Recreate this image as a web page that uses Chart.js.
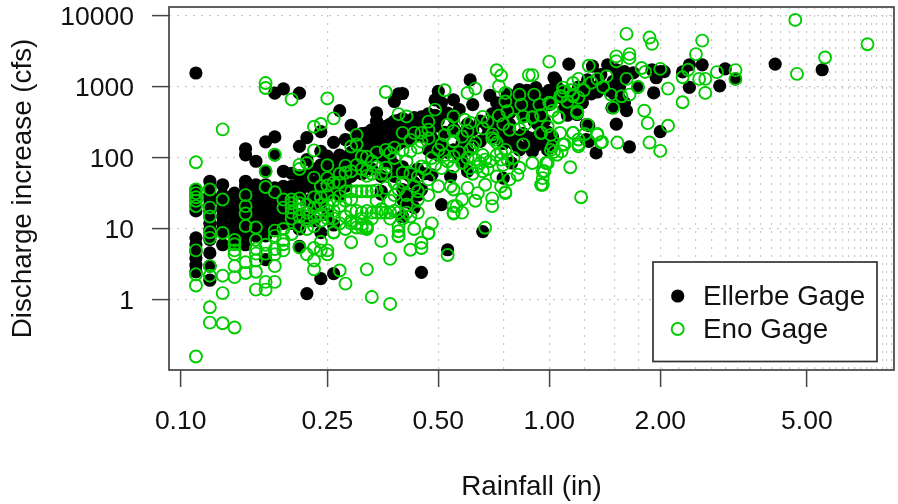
<!DOCTYPE html>
<html>
<head>
<meta charset="utf-8">
<script src="https://cdn.jsdelivr.net/npm/chart.js@4"></script>
<style>
  html, body { margin: 0; padding: 0; background: #fff; }
  canvas { display: block; filter: blur(0.4px); }
</style>
</head>
<body>
<canvas id="chart" width="898" height="504"></canvas>
<script>
// [rainfall in, discharge increase cfs]
const ellerbePoints = [
  [.11,1574],[.11,36],[.11,30],[.11,25],[.11,21],[.11,18],[.11,7.5],[.11,6],[.11,4.8],[.11,3.9],[.11,3.1],[.11,2.5],
  [.12,47],[.12,38],[.12,30],[.12,26],[.12,22],[.12,18],[.12,15],[.12,12],[.12,10],[.12,8],[.12,7.1],[.12,4.6],[.12,3],[.12,1.9],
  [.13,42],[.13,30],[.13,24],[.13,19],[.13,15],[.13,12],[.13,10],[.13,8.8],[.13,6],
  [.14,32],[.14,26],[.14,21],[.14,17],[.14,14],[.14,11],[.14,9],[.14,7],[.14,6.4],
  [.15,135],[.15,111],[.15,47],[.15,40],[.15,32],[.15,26],[.15,21],[.15,17],[.15,14],[.15,11],[.15,9],[.15,7],[.15,6],
  [.16,90],[.16,42],[.16,34],[.16,28],[.16,23],[.16,19],[.16,15],[.16,12],[.16,10],[.16,8],
  [.17,169],[.17,65],[.17,42],[.17,34],[.17,28],[.17,23],[.17,19],[.17,15],[.17,12],[.17,10],[.17,8],[.17,3.7],
  [.18,820],[.18,198],[.18,111],[.18,38],[.18,30],[.18,25],[.18,20],[.18,16],[.18,13],[.18,10],
  [.19,940],[.19,65],[.19,40],[.19,32],[.19,26],[.19,20],[.19,15],[.19,12],
  [.20,61],[.20,40],[.20,30],[.20,22],[.20,16],[.20,12],
  [.21,820],[.21,146],[.21,56],[.21,45],[.21,32],[.21,16],[.21,10],[.21,5.7],
  [.22,194],[.22,95],[.22,59],[.22,40],[.22,25],[.22,14],[.22,1.23],
  [.23,70],[.23,45],[.23,30],[.23,20],[.23,13],
  [.24,235],[.24,124],[.24,80],[.24,55],[.24,35],[.24,22],[.24,8.9],[.24,2],
  [.25,106],[.25,73],[.25,50],[.25,30],[.25,16],
  [.26,166],[.26,85],[.26,60],[.26,40],[.26,11.4],[.26,2.35],
  [.27,464],[.27,110],[.27,70],[.27,45],[.27,30],
  [.28,182],[.28,95],[.28,65],[.28,40],
  [.29,288],[.29,120],[.29,80],[.29,55],
  [.30,200],[.30,140],[.30,100],[.30,75],
  [.31,220],[.31,160],[.31,120],[.31,85],[.31,60],
  [.32,226],[.32,180],[.32,130],[.32,95],
  [.33,250],[.33,190],[.33,150],[.33,110],[.33,70],
  [.34,432],[.34,330],[.34,265],[.34,210],[.34,160],[.34,120],
  [.35,240],[.35,190],[.35,150],[.35,110],[.35,55],[.35,34],[.35,31],
  [.36,280],[.36,220],[.36,170],[.36,130],[.36,90],
  [.37,300],[.37,230],[.37,180],[.37,140],[.37,100],
  [.38,625],[.38,330],[.38,250],[.38,190],[.38,150],[.38,80],[.38,55],
  [.39,800],[.39,340],[.39,260],[.39,200],[.39,160],
  [.40,810],[.40,360],[.40,280],[.40,210],[.40,75],[.40,36],[.40,26],[.40,15],
  [.41,300],[.41,230],[.41,170],[.41,60],[.41,24],
  [.42,340],[.42,260],[.42,190],[.42,55],[.42,30],
  [.43,370],[.43,280],[.43,200],[.43,45],[.43,20],
  [.44,340],[.44,220],[.44,70],[.44,30],
  [.45,380],[.45,290],[.45,36],[.45,2.45],
  [.46,300],[.46,200],[.46,60],
  [.47,420],[.47,240],[.47,130],
  [.48,310],[.48,190],[.48,120],[.48,58],
  [.49,660],[.49,400],[.49,280],
  [.50,870],[.50,340],[.50,160],[.50,110],
  [.51,600],[.51,155],[.51,22],
  [.52,230],[.53,430],[.53,120],[.53,5.1],
  [.54,55],[.55,660],[.55,370],[.55,260],[.55,130],[.57,480],[.57,111],[.57,220],[.58,160],[.58,90],
  [.60,300],[.60,180],[.60,130],[.60,65],[.61,1260],[.62,565],[.62,250],[.65,172],[.65,330],
  [.66,9.2],[.68,280],[.68,210],[.69,760],[.70,420],[.70,300],[.70,190],[.72,600],[.72,200],[.72,400],[.74,510],[.74,345],[.74,250],[.75,160],[.75,52],[.75,240],
  [.76,180],[.77,800],[.77,620],[.78,550],[.78,430],[.78,300],[.78,200],[.79,85],[.80,200],[.80,160],[.80,690],[.81,520],[.82,150],[.83,920],[.83,750],[.83,130],
  [.85,560],[.85,380],[.85,220],[.87,430],[.87,900],[.88,194],[.88,150],[.88,660],[.90,124],[.90,800],[.90,500],
  [.91,330],[.92,980],[.92,620],[.92,150],[.93,300],[.93,200],[.94,600],[.95,800],[.95,440],[.96,240],[.97,330],[.97,190],[.99,232],[.99,140],[.99,130],
  [1.0,565],[1.0,900],[1.0,160],[1.01,825],[1.02,825],[1.02,200],[1.03,1350],[1.04,1250],[1.06,950],[1.08,700],[1.1,820],[1.1,500],
  [1.12,400],[1.13,2100],[1.15,620],[1.16,780],[1.18,700],[1.19,410],[1.2,1000],[1.22,900],[1.23,600],[1.25,1000],[1.26,295],[1.26,182],[1.27,1260],[1.28,285],[1.28,172],
  [1.3,800],[1.31,980],[1.31,1970],[1.34,118],[1.35,850],[1.36,1030],[1.38,1500],[1.42,980],[1.44,2050],[1.45,900],[1.48,510],[1.49,1200],[1.5,800],
  [1.52,1750],[1.52,300],[1.55,1300],[1.55,1000],[1.55,700],[1.6,1650],[1.6,1350],[1.6,600],[1.62,465],[1.65,143],[1.69,1580],[1.74,1000],
  [1.9,1750],[1.92,825],[1.95,1350],[2.0,1650],[2.0,235],[2.05,1650],[2.3,1630],[2.4,2050],[2.4,990],[2.6,2050],
  [2.9,1040],[3.0,1800],[3.2,1300],[4.1,2100],[5.5,1750]
];
const enoPoints = [
  [.11,87],[.11,36],[.11,32],[.11,28],[.11,25],[.11,21],[.11,5],[.11,2.3],[.11,1.6],[.11,.16],
  [.12,36],[.12,20],[.12,15],[.12,9],[.12,7.5],[.12,3],[.12,2.2],[.12,.79],[.12,.48],
  [.13,253],[.13,26],[.13,8.8],[.13,2.2],[.13,1.25],[.13,.47],
  [.14,7],[.14,6.1],[.14,5],[.14,4.4],[.14,3],[.14,2.1],[.14,.41],
  [.15,30],[.15,21],[.15,16.5],[.15,11],[.15,3.4],[.15,2.4],
  [.16,10.5],[.16,7],[.16,5.3],[.16,4.5],[.16,3.6],[.16,2.5],[.16,1.4],
  [.17,1137],[.17,968],[.17,65],[.17,39],[.17,6],[.17,4.5],[.17,1.8],[.17,1.4],
  [.18,111],[.18,33],[.18,9.5],[.18,8],[.18,5.2],[.18,4.4],[.18,3],[.18,1.8],
  [.19,26],[.19,20],[.19,10],[.19,7],[.19,6.1],[.19,5],
  [.20,668],[.20,26],[.20,23],[.20,20],[.20,17],[.20,14],[.20,8.5],
  [.21,80],[.21,70],[.21,27],[.21,23],[.21,19],[.21,15],[.21,11],[.21,5.5],
  [.22,85],[.22,22],[.22,17],[.22,13],[.22,10],[.22,4.4],
  [.23,276],[.23,128],[.23,53],[.23,28],[.23,20],[.23,15],[.23,11],[.23,5.4],[.23,3.6],[.23,2.7],
  [.24,301],[.24,40],[.24,28],[.24,22],[.24,16],[.24,13],[.24,6.6],[.24,5],
  [.25,690],[.25,79],[.25,52],[.25,41],[.25,30],[.25,22],[.25,18],[.25,14],[.25,5],[.25,4.4],
  [.26,361],[.26,45],[.26,25],[.26,18],[.26,14],[.26,9],[.26,8.9],
  [.27,60],[.27,45],[.27,29],[.27,21],[.27,12],[.27,2.6],
  [.28,78],[.28,62],[.28,34],[.28,25],[.28,15],[.28,10],[.28,1.7],
  [.29,145],[.29,65],[.29,34],[.29,26],[.29,18],[.29,13],[.29,12],[.29,6.5],
  [.30,212],[.30,155],[.30,80],[.30,34],[.30,18],[.30,12],[.30,10.5],
  [.31,105],[.31,70],[.31,34],[.31,17],[.31,14],[.31,11.5],[.31,10.4],
  [.32,104],[.32,66],[.32,56],[.32,34],[.32,18],[.32,11],[.32,10.4],[.32,10],[.32,2.7],
  [.33,90],[.33,60],[.33,34],[.33,17],[.33,14],[.33,1.1],
  [.34,120],[.34,75],[.34,35],[.34,25],[.34,17],
  [.35,60],[.35,19],[.35,17],[.35,6.8],
  [.36,850],[.36,130],[.36,73],[.36,60],[.36,38],[.36,17],
  [.37,118],[.37,25],[.37,17],[.37,14],[.37,3.8],[.37,.88],
  [.38,140],[.38,100],[.38,45],[.38,30],[.38,18],
  [.39,415],[.39,36],[.39,17],[.39,11],[.39,9.3],[.39,8],[.39,7.9],
  [.40,226],[.40,130],[.40,62],[.40,45],[.40,14],
  [.41,385],[.41,90],[.41,30],[.41,22],[.41,17],
  [.42,180],[.42,124],[.42,60],[.42,15],[.42,5.1],
  [.43,226],[.43,40],[.43,10],
  [.44,140],[.44,55],[.44,34],[.44,26],[.44,17],
  [.45,226],[.45,170],[.45,76],[.45,6.4],[.45,5.4],
  [.46,70],[.47,325],[.47,250],[.47,190],[.47,50],[.47,30],[.47,8.8],[.47,8.7],
  [.48,100],[.48,12],[.49,480],[.49,80],
  [.50,130],[.50,40],[.51,155],[.51,72],[.52,900],[.52,210],[.52,110],[.53,295],[.53,90],[.53,4.3],
  [.54,40],[.55,385],[.55,240],[.55,172],[.55,105],[.55,76],[.55,36],[.55,21],[.55,17],[.55,16.5],
  [.56,21],[.57,120],[.58,200],[.58,85],[.58,26],[.58,17],[.59,345],[.60,825],[.60,240],[.60,100],[.60,38],
  [.61,315],[.61,130],[.61,72],[.62,145],[.62,60],[.63,950],[.63,165],[.63,95],[.63,25],[.64,75],[.64,32],[.65,85],
  [.66,380],[.66,260],[.66,110],[.66,65],[.67,95],[.67,42],[.67,10.4],[.68,325],[.68,70],[.69,90],
  [.70,215],[.70,190],[.70,27],[.70,21],[.71,180],[.72,1720],[.72,165],[.72,110],[.72,55],[.73,1030],[.73,395],[.74,1450],[.74,120],[.74,95],[.74,40],
  [.75,300],[.75,80],[.76,825],[.76,625],[.76,130],[.76,33],[.76,32],[.77,455],[.77,95],[.78,250],[.78,50],[.80,350],[.80,100],
  [.82,58],[.83,780],[.83,255],[.83,73],[.84,565],[.85,385],[.85,155],[.86,300],[.88,1470],
  [.90,1470],[.90,380],[.90,370],[.90,85],[.91,780],[.94,565],[.95,400],[.95,226],[.95,225],[.95,42],
  [.96,65],[.96,52],[.96,42],[.97,65],[.98,85],[.99,278],[.99,85],
  [1.0,2280],[1.0,600],[1.01,580],[1.01,212],[1.01,130],[1.02,460],[1.02,146],[1.03,122],[1.05,111],[1.06,380],[1.06,370],
  [1.07,740],[1.07,225],[1.08,740],[1.08,124],[1.09,980],[1.09,870],[1.09,155],[1.1,155],
  [1.12,620],[1.14,900],[1.14,74],[1.16,1140],[1.16,780],[1.16,740],[1.16,226],[1.16,225],[1.19,455],[1.19,430],
  [1.2,1300],[1.2,710],[1.2,182],[1.2,155],[1.2,146],[1.22,28],[1.24,900],[1.25,218],[1.27,295],[1.28,1990],[1.3,1150],
  [1.35,1300],[1.35,218],[1.35,212],[1.38,166],[1.39,168],[1.4,1000],[1.43,1420],[1.47,780],[1.49,510],[1.52,2700],[1.52,2300],[1.53,165],
  [1.57,740],[1.62,5600],[1.62,1300],[1.65,2900],[1.65,2550],[1.65,780],[1.74,1000],[1.78,1850],[1.81,464],[1.82,1630],
  [1.85,310],[1.87,4970],[1.87,165],[1.9,4050],[2.0,1800],[2.0,126],[2.1,950],[2.1,285],[2.3,1370],[2.3,610],
  [2.38,1750],[2.5,2900],[2.55,1300],[2.6,4500],[2.65,1300],[2.65,825],[2.85,1620],[3.2,1730],[3.2,1300],
  [4.65,8800],[4.7,1530],[5.6,2600],[7.3,4000]
];

const seriesLabels = ['Ellerbe Gage', 'Eno Gage'];
const seriesColors = ['#000000', '#00cc00'];

const xTickValues = [0.1, 0.25, 0.5, 1, 2, 5];
const xTickLabels = ['0.10', '0.25', '0.50', '1.00', '2.00', '5.00'];
const yTickValues = [1, 10, 100, 1000, 10000];
// vertical guides every quarter inch, like abline(v = seq(...))
const xGridValues = [0.25,0.5,0.75,1,1.25,1.5,1.75,2,2.25,2.5,2.75,3,3.25,3.5,3.75,4,4.25,4.5,4.75,5,5.25,5.5,5.75,6,6.25,6.5,6.75,7,7.25,7.5,7.75,8,8.25,8.5];

const axisColor = '#444444';
const gridColor = '#c9c9c9';
const fontName = '"Liberation Sans", Arial, sans-serif';

// fixed axis sizes so the plot area does not move with label overhang
function fixAxis(s, size) {
    if (s.isHorizontal()) s.height = size; else s.width = size;
    s.paddingTop = s.paddingBottom = s.paddingLeft = s.paddingRight = 0;
}

// box round the plot, R style
const plotBox = {
    id: 'plotBox',
    afterDatasetsDraw(chart) {
        const { ctx, chartArea: a } = chart;
        ctx.save();
        ctx.strokeStyle = axisColor;
        ctx.lineWidth = 1.7;
        ctx.strokeRect(a.left, a.top, a.right - a.left, a.bottom - a.top);
        ctx.restore();
    }
};

// legend sits inside the plot at bottom right with its own frame
const boxLegend = {
    id: 'boxLegend',
    afterDraw(chart) {
        const ctx = chart.ctx;
        ctx.save();
        ctx.fillStyle = '#fff';
        ctx.strokeStyle = '#333';
        ctx.lineWidth = 1.7;
        ctx.fillRect(653, 262, 224, 99.5);
        ctx.strokeRect(653, 262, 224, 99.5);
        ctx.font = '27.8px ' + fontName;
        ctx.textBaseline = 'middle';
        const rows = [296, 329];
        seriesLabels.forEach((label, i) => {
            ctx.beginPath();
            if (i === 0) {
                ctx.fillStyle = seriesColors[0];
                ctx.arc(677.7, rows[i], 6.6, 0, Math.PI * 2);
                ctx.fill();
            } else {
                ctx.strokeStyle = seriesColors[1];
                ctx.lineWidth = 1.9;
                ctx.arc(677.7, rows[i], 6, 0, Math.PI * 2);
                ctx.stroke();
            }
            ctx.fillStyle = '#111';
            ctx.fillText(label, 703, rows[i] + 1);
        });
        ctx.restore();
    }
};

new Chart(document.getElementById('chart').getContext('2d'), {
    type: 'scatter',
    plugins: [plotBox, boxLegend],
    data: {
        datasets: [
            {
                label: seriesLabels[0],
                data: ellerbePoints.map(p => ({ x: p[0], y: p[1] })),
                pointRadius: 6.6,
                pointBorderWidth: 0,
                backgroundColor: seriesColors[0],
                order: 2
            },
            {
                label: seriesLabels[1],
                data: enoPoints.map(p => ({ x: p[0], y: p[1] })),
                pointRadius: 6,
                pointBorderWidth: 1.9,
                backgroundColor: 'transparent',
                borderColor: seriesColors[1],
                order: 1
            }
        ]
    },
    options: {
        responsive: false,
        animation: false,
        layout: { autoPadding: false, padding: { top: 7, right: 4, left: 0, bottom: 0 } },
        plugins: { legend: { display: false }, tooltip: { enabled: false } },
        scales: {
            x: {
                type: 'logarithmic',
                min: 0.09297,
                max: 8.615,
                afterFit(s) { fixAxis(s, 134); },
                afterBuildTicks(s) {
                    s.ticks = [...new Set([...xTickValues, ...xGridValues])].sort((a, b) => a - b).map(v => ({ value: v }));
                },
                border: { display: false, dash: [2, 6] },
                grid: {
                    color: c => c.tick && xGridValues.includes(c.tick.value) ? gridColor : 'transparent',
                    lineWidth: 1.2,
                    tickLength: 17,
                    tickWidth: 1.5,
                    tickBorderDash: [],
                    tickColor: c => c.tick && xTickValues.includes(c.tick.value) ? axisColor : 'transparent'
                },
                ticks: {
                    autoSkip: false,
                    maxRotation: 0,
                    padding: 19,
                    color: '#111',
                    font: { family: fontName, size: 26.5 },
                    callback: v => {
                        const i = xTickValues.indexOf(v);
                        return i >= 0 ? xTickLabels[i] : '';
                    }
                },
                title: {
                    display: true,
                    text: 'Rainfall (in)',
                    color: '#111',
                    font: { family: fontName, size: 27.8 },
                    padding: 0
                }
            },
            y: {
                type: 'logarithmic',
                min: 0.1033,
                max: 13390,
                afterFit(s) { fixAxis(s, 169); },
                afterBuildTicks(s) {
                    s.ticks = yTickValues.map(v => ({ value: v }));
                },
                border: { display: false, dash: [2, 6] },
                grid: {
                    color: gridColor,
                    lineWidth: 1.2,
                    tickLength: 17,
                    tickWidth: 1.5,
                    tickBorderDash: [],
                    tickColor: axisColor
                },
                ticks: {
                    autoSkip: false,
                    padding: 18,
                    labelOffset: 2,
                    color: '#111',
                    font: { family: fontName, size: 26.5 },
                    callback: v => String(v)
                },
                title: {
                    display: true,
                    text: 'Discharge increase (cfs)',
                    color: '#111',
                    font: { family: fontName, size: 27.8 },
                    padding: 6.3
                }
            }
        }
    }
});
</script>
</body>
</html>
